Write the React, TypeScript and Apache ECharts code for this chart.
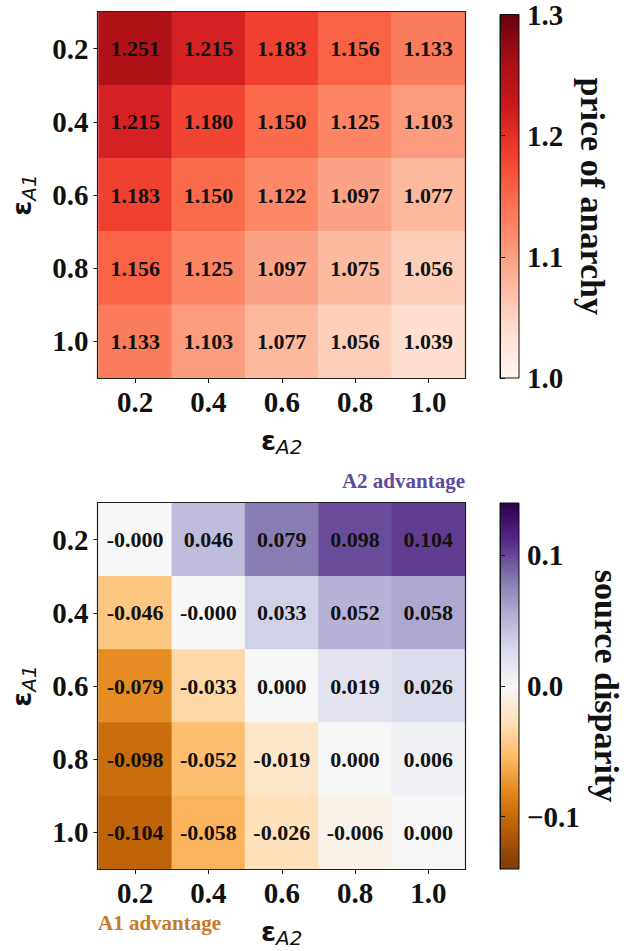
import React, { useEffect, useRef } from "react";
import * as echarts from "echarts";

const X_LABELS = ["0.2", "0.4", "0.6", "0.8", "1.0"];
const Y_LABELS = ["0.2", "0.4", "0.6", "0.8", "1.0"];

// rows: eps_A1 = 0.2 .. 1.0 ; columns: eps_A2 = 0.2 .. 1.0
const PRICE_OF_ANARCHY = [
  [1.251, 1.215, 1.183, 1.156, 1.133],
  [1.215, 1.18, 1.15, 1.125, 1.103],
  [1.183, 1.15, 1.122, 1.097, 1.077],
  [1.156, 1.125, 1.097, 1.075, 1.056],
  [1.133, 1.103, 1.077, 1.056, 1.039],
];

const SOURCE_DISPARITY = [
  [-0.0001, 0.046, 0.079, 0.098, 0.104],
  [-0.046, -0.0001, 0.033, 0.052, 0.058],
  [-0.079, -0.033, 0.0, 0.019, 0.026],
  [-0.098, -0.052, -0.019, 0.0, 0.006],
  [-0.104, -0.058, -0.026, -0.006, 0.0],
];

const POA_RANGE = [1.0, 1.3];
const DISP_RANGE = [-0.14, 0.14];
const POA_TICKS = [1.0, 1.1, 1.2, 1.3];
const DISP_TICKS = [-0.1, 0.0, 0.1];

const REDS = ["#fff5f0", "#fee0d2", "#fcbba1", "#fc9272", "#fb6a4a", "#ef3b2c", "#cb181d", "#a50f15", "#67000d"];
const PUOR = ["#7f3b08", "#b35806", "#e08214", "#fdb863", "#fee0b6", "#f7f7f7", "#d8daeb", "#b2abd2", "#8073ac", "#542788", "#2d004b"];

const SERIF = "'Liberation Serif', 'Times New Roman', serif";
const SANS = "'DejaVu Sans', sans-serif";
const INK = "#111";

function toCells(m: number[][]) {
  const out: number[][] = [];
  m.forEach((row, r) => row.forEach((v, c) => out.push([c, r, v])));
  return out;
}

function gradient(colors: string[]) {
  const n = colors.length;
  const stops = colors
    .slice()
    .reverse()
    .map((color, i) => ({ offset: i / (n - 1), color }));
  return new echarts.graphic.LinearGradient(0, 0, 0, 1, stops);
}

const fmtTick = (v: number) => (v < 0 ? "\u2212" + Math.abs(v).toFixed(1) : Math.abs(v).toFixed(1));

const L = { left: 98, width: 367, h: 366, top1: 12, top2: 503, cbLeft: 500, cbW: 19 };

const epsRich = {
  e: { fontFamily: SANS, fontSize: 27, fontWeight: "bold", color: INK },
  s: { fontFamily: SANS, fontSize: 20, fontStyle: "italic", color: INK, padding: [14, 0, 0, 0] },
};

export default function App() {
  const ref = useRef<HTMLDivElement>(null);
  useEffect(() => {
    document.body.style.margin = "0";
    const chart = echarts.init(ref.current!, null, { renderer: "svg" });

    const catX = (gi: number) => ({
      type: "category",
      gridIndex: gi,
      data: X_LABELS,
      axisLine: { show: false },
      axisTick: { show: true, alignWithLabel: true, length: 5, lineStyle: { color: INK } },
      axisLabel: { fontFamily: SERIF, fontWeight: "bold", fontSize: 29, color: INK, margin: 9 },
      splitLine: { show: false },
      name: "{e|ε}{s|A2}",
      nameLocation: "middle",
      nameGap: 45,
      nameTextStyle: { rich: epsRich },
    });
    const catY = (gi: number) => ({
      type: "category",
      gridIndex: gi,
      data: Y_LABELS,
      inverse: true,
      axisLine: { show: false },
      axisTick: { show: true, alignWithLabel: true, length: 5, lineStyle: { color: INK } },
      axisLabel: { fontFamily: SERIF, fontWeight: "bold", fontSize: 29, color: INK, margin: 10 },
      splitLine: { show: false },
      name: "{e|ε}{s|A1}",
      nameLocation: "middle",
      nameRotate: 90,
      nameGap: 60,
      nameTextStyle: { rich: epsRich },
    });
    const cbX = (gi: number) => ({ type: "value", gridIndex: gi, show: false, min: 0, max: 1 });
    const cbY = (gi: number, range: number[], ticks: number[], name: string, gap: number) => ({
      type: "value",
      gridIndex: gi,
      position: "right",
      min: range[0],
      max: range[1],
      axisLine: { show: true, lineStyle: { color: INK } },
      axisTick: { show: true, length: 5, customValues: ticks, lineStyle: { color: INK } },
      axisLabel: {
        show: true,
        customValues: ticks,
        formatter: (v: number) => fmtTick(v),
        fontFamily: SERIF,
        fontWeight: "bold",
        fontSize: 29,
        color: INK,
        margin: 8,
        showMinLabel: true,
        showMaxLabel: true,
      },
      splitLine: { show: false },
      name,
      nameLocation: "middle",
      nameRotate: -90,
      nameGap: gap,
      nameTextStyle: { fontFamily: SERIF, fontWeight: "bold", fontSize: 34, color: INK },
    });

    const cellLabel = {
      show: true,
      formatter: (p: any) => Number(p.value[2]).toFixed(3),
      fontFamily: SERIF,
      fontWeight: "bold",
      fontSize: 22,
      color: INK,
    };

    const frame = (top: number) => ({
      type: "rect",
      z: 100,
      silent: true,
      shape: { x: L.left - 0.5, y: top - 0.5, width: L.width + 1, height: L.h + 1 },
      style: { fill: "none", stroke: "#222", lineWidth: 1.2 },
    });

    chart.setOption({
      animation: false,
      backgroundColor: "#fff",
      grid: [
        { left: L.left, top: L.top1, width: L.width, height: L.h },
        { left: L.left, top: L.top2, width: L.width, height: L.h },
        {
          left: L.cbLeft, top: L.top1, width: L.cbW, height: L.h, show: true,
          backgroundColor: gradient(REDS), borderColor: INK, borderWidth: 1,
        },
        {
          left: L.cbLeft, top: L.top2, width: L.cbW, height: L.h, show: true,
          backgroundColor: gradient(PUOR), borderColor: INK, borderWidth: 1,
        },
      ],
      xAxis: [catX(0), catX(1), cbX(2), cbX(3)],
      yAxis: [
        catY(0),
        catY(1),
        cbY(2, POA_RANGE, POA_TICKS, "price of anarchy", 56),
        cbY(3, DISP_RANGE, DISP_TICKS, "source disparity", 70),
      ],
      visualMap: [
        {
          type: "continuous", show: false, seriesIndex: 0, dimension: 2,
          min: POA_RANGE[0], max: POA_RANGE[1], inRange: { color: REDS },
        },
        {
          type: "continuous", show: false, seriesIndex: 1, dimension: 2,
          min: DISP_RANGE[0], max: DISP_RANGE[1], inRange: { color: PUOR },
        },
      ],
      series: [
        {
          type: "heatmap", xAxisIndex: 0, yAxisIndex: 0,
          data: toCells(PRICE_OF_ANARCHY), label: cellLabel,
          emphasis: { disabled: true },
        },
        {
          type: "heatmap", xAxisIndex: 1, yAxisIndex: 1,
          data: toCells(SOURCE_DISPARITY), label: cellLabel,
          emphasis: { disabled: true },
        },
      ],
      graphic: [
        frame(L.top1),
        frame(L.top2),
        {
          type: "text",
          x: L.left + L.width,
          y: 491,
          style: {
            text: "A2 advantage", align: "right", verticalAlign: "bottom",
            fill: "#5f4a9c", fontFamily: SERIF, fontWeight: "bold", fontSize: 21,
          },
        },
        {
          type: "text",
          x: L.left,
          y: 933,
          style: {
            text: "A1 advantage", align: "left", verticalAlign: "bottom",
            fill: "#c8782a", fontFamily: SERIF, fontWeight: "bold", fontSize: 21,
          },
        },
      ],
    });
    return () => chart.dispose();
  }, []);
  return <div ref={ref} style={{ width: 638, height: 951 }} />;
}
